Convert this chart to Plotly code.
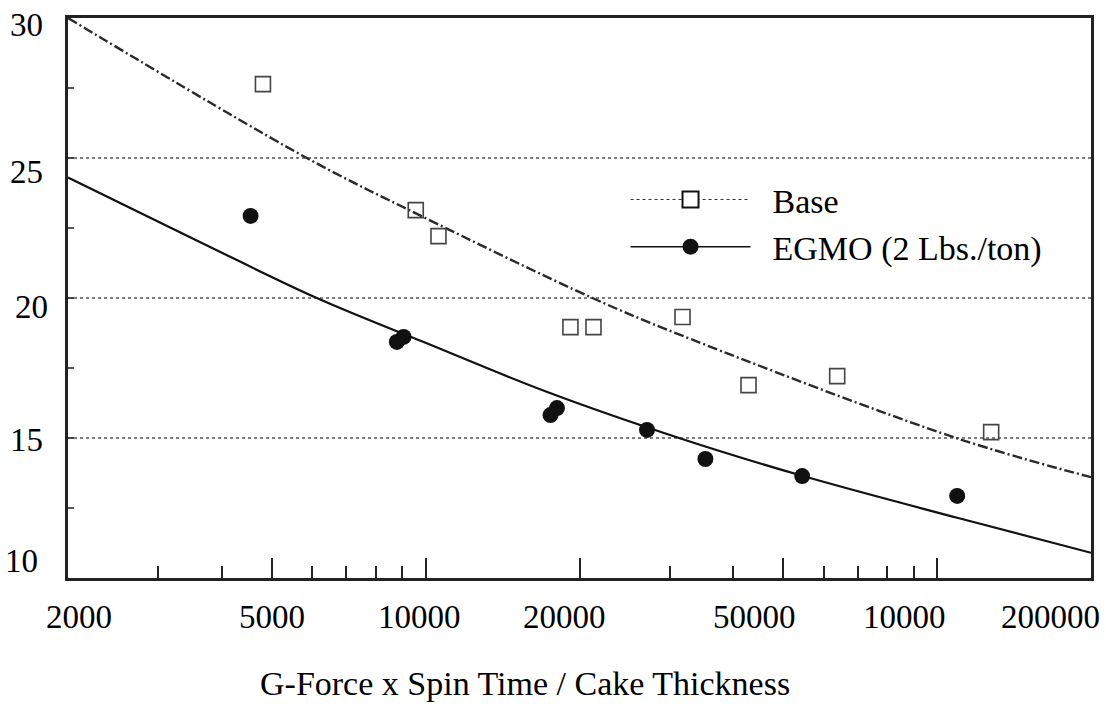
import math
import plotly.graph_objects as go

# ---- data ----
base_x = [4810, 9570, 10600, 19200, 21300, 31800, 42800, 63800, 127600]
base_y = [27.64, 23.14, 22.21, 18.96, 18.96, 19.32, 16.89, 17.21, 15.21]

egmo_x = [4550, 8790, 9060, 17550, 18070, 27100, 35250, 54500, 109500]
egmo_y = [22.93, 18.43, 18.61, 15.82, 16.07, 15.29, 14.25, 13.64, 12.93]

# fitted curves
base_fit_x = [2000, 5860, 9730, 21200, 31300, 109000, 200000]
base_fit_y = [30.0, 25.0, 22.96, 20.0, 18.7, 15.0, 13.6]

egmo_fit_x = [2000, 3620, 6130, 10000, 17250, 31300, 54500, 109500, 200000]
egmo_fit_y = [24.3, 22.0, 20.0, 18.4, 16.65, 15.0, 13.65, 12.15, 10.9]

x_tick_vals = [2000, 5000, 10000, 20000, 50000, 100000, 200000]
x_tick_text = ["2000", "5000", "10000", "20000", "50000", "10000", "200000"]
x_minor_vals = [3000, 4000, 6000, 7000, 8000, 9000, 30000, 40000,
                60000, 70000, 80000, 90000]
y_tick_vals = [10, 15, 20, 25, 30]
y_tick_text = ["10", "15", "20", "25", "30"]
y_minor_vals = [12.5, 17.5, 22.5, 27.5]

legend_names = ["Base", "EGMO (2 Lbs./ton)"]
x_title = "G-Force x Spin Time / Cake Thickness"

# ---- styles ----
FONT = "Liberation Serif, Times New Roman, serif"
NB = "\u00a0\u00a0"
x_label_xshift = [11, 0, -6, -15, -29, -33, -41]
y_label_yshift = [17, -2, -9, -14, -7]
y_label_xshift = [-28, -23, -18, -23, -23]
x_lo = math.log10(x_tick_vals[0])
x_hi = math.log10(x_tick_vals[-1])

fig = go.Figure()

fig.add_trace(go.Scatter(
    x=base_fit_x, y=base_fit_y, mode="lines", line_shape="spline",
    line=dict(color="#2a2a2a", width=2.4, dash="10px,3px,2px,3px"),
    showlegend=False, hoverinfo="skip"))
fig.add_trace(go.Scatter(
    x=egmo_fit_x, y=egmo_fit_y, mode="lines", line_shape="spline",
    line=dict(color="#111111", width=2.2),
    showlegend=False, hoverinfo="skip"))

fig.add_trace(go.Scatter(
    x=base_x, y=base_y, mode="markers",
    marker=dict(symbol="square-open", size=15, color="#444444",
                line=dict(width=1.6, color="#444444")),
    showlegend=False))
fig.add_trace(go.Scatter(
    x=egmo_x, y=egmo_y, mode="markers",
    marker=dict(symbol="circle", size=16, color="#111111"),
    showlegend=False))

# legend entries
fig.add_trace(go.Scatter(
    x=[None], y=[None], mode="lines+markers", name=NB + legend_names[0],
    line=dict(color="#333333", width=1.2, dash="dot"),
    marker=dict(symbol="square", size=22, color="white",
                line=dict(width=2, color="#111111"))))
fig.add_trace(go.Scatter(
    x=[None], y=[None], mode="lines+markers", name=NB + legend_names[1],
    line=dict(color="#111111", width=1.6),
    marker=dict(symbol="circle", size=22, color="#111111")))

annotations = []
for v, t, s in zip(x_tick_vals, x_tick_text, x_label_xshift):
    lv = min(max(math.log10(v), x_lo), x_hi)
    annotations.append(dict(
        x=lv, xref="x", y=0, yref="paper", text=t,
        showarrow=False, xanchor="center", yanchor="middle",
        xshift=s, yshift=-39,
        font=dict(family=FONT, size=33, color="black")))
for v, t, ys, xs in zip(y_tick_vals, y_tick_text, y_label_yshift,
                        y_label_xshift):
    annotations.append(dict(
        x=0, xref="paper", y=v, yref="y", text=t,
        showarrow=False, xanchor="right", yanchor="middle",
        xshift=xs, yshift=ys,
        font=dict(family=FONT, size=33, color="black")))
annotations.append(dict(
    x=0.447, xref="paper", y=0, yref="paper", text=x_title, showarrow=False,
    xanchor="center", yanchor="middle", yshift=-105,
    font=dict(family=FONT, size=34, color="black")))

fig.update_layout(
    width=1106, height=712,
    margin=dict(l=68, r=13, t=18, b=134),
    paper_bgcolor="white", plot_bgcolor="white",
    font=dict(family=FONT, color="black"),
    annotations=annotations,
    legend=dict(
        x=0.545, y=0.727, xanchor="left", yanchor="top",
        bgcolor="rgba(0,0,0,0)", itemwidth=120, tracegroupgap=0,
        font=dict(family=FONT, size=34, color="black")),
    xaxis=dict(
        type="log", range=[x_lo, x_hi],
        tickmode="array", tickvals=x_tick_vals, ticktext=x_tick_text,
        showticklabels=False, ticks="inside", ticklen=20, tickwidth=2,
        tickcolor="#222222",
        minor=dict(tickmode="array", tickvals=x_minor_vals, ticks="inside",
                   ticklen=12, tickwidth=2, tickcolor="#222222",
                   showgrid=False),
        showgrid=False, zeroline=False,
        showline=True, linewidth=3, linecolor="#222222", mirror=True),
    yaxis=dict(
        range=[10, 30], tickmode="array", tickvals=y_tick_vals,
        showticklabels=False,
        ticks="inside", ticklen=6, tickwidth=1.5, tickcolor="#444444",
        minor=dict(tickmode="array", tickvals=y_minor_vals, ticks="inside",
                   ticklen=6, tickwidth=1.5, tickcolor="#555555",
                   showgrid=False),
        showgrid=True, gridcolor="#808080", gridwidth=1.5, griddash="dot",
        zeroline=False,
        showline=True, linewidth=3, linecolor="#222222", mirror=True),
)

fig.write_html("out.html")
